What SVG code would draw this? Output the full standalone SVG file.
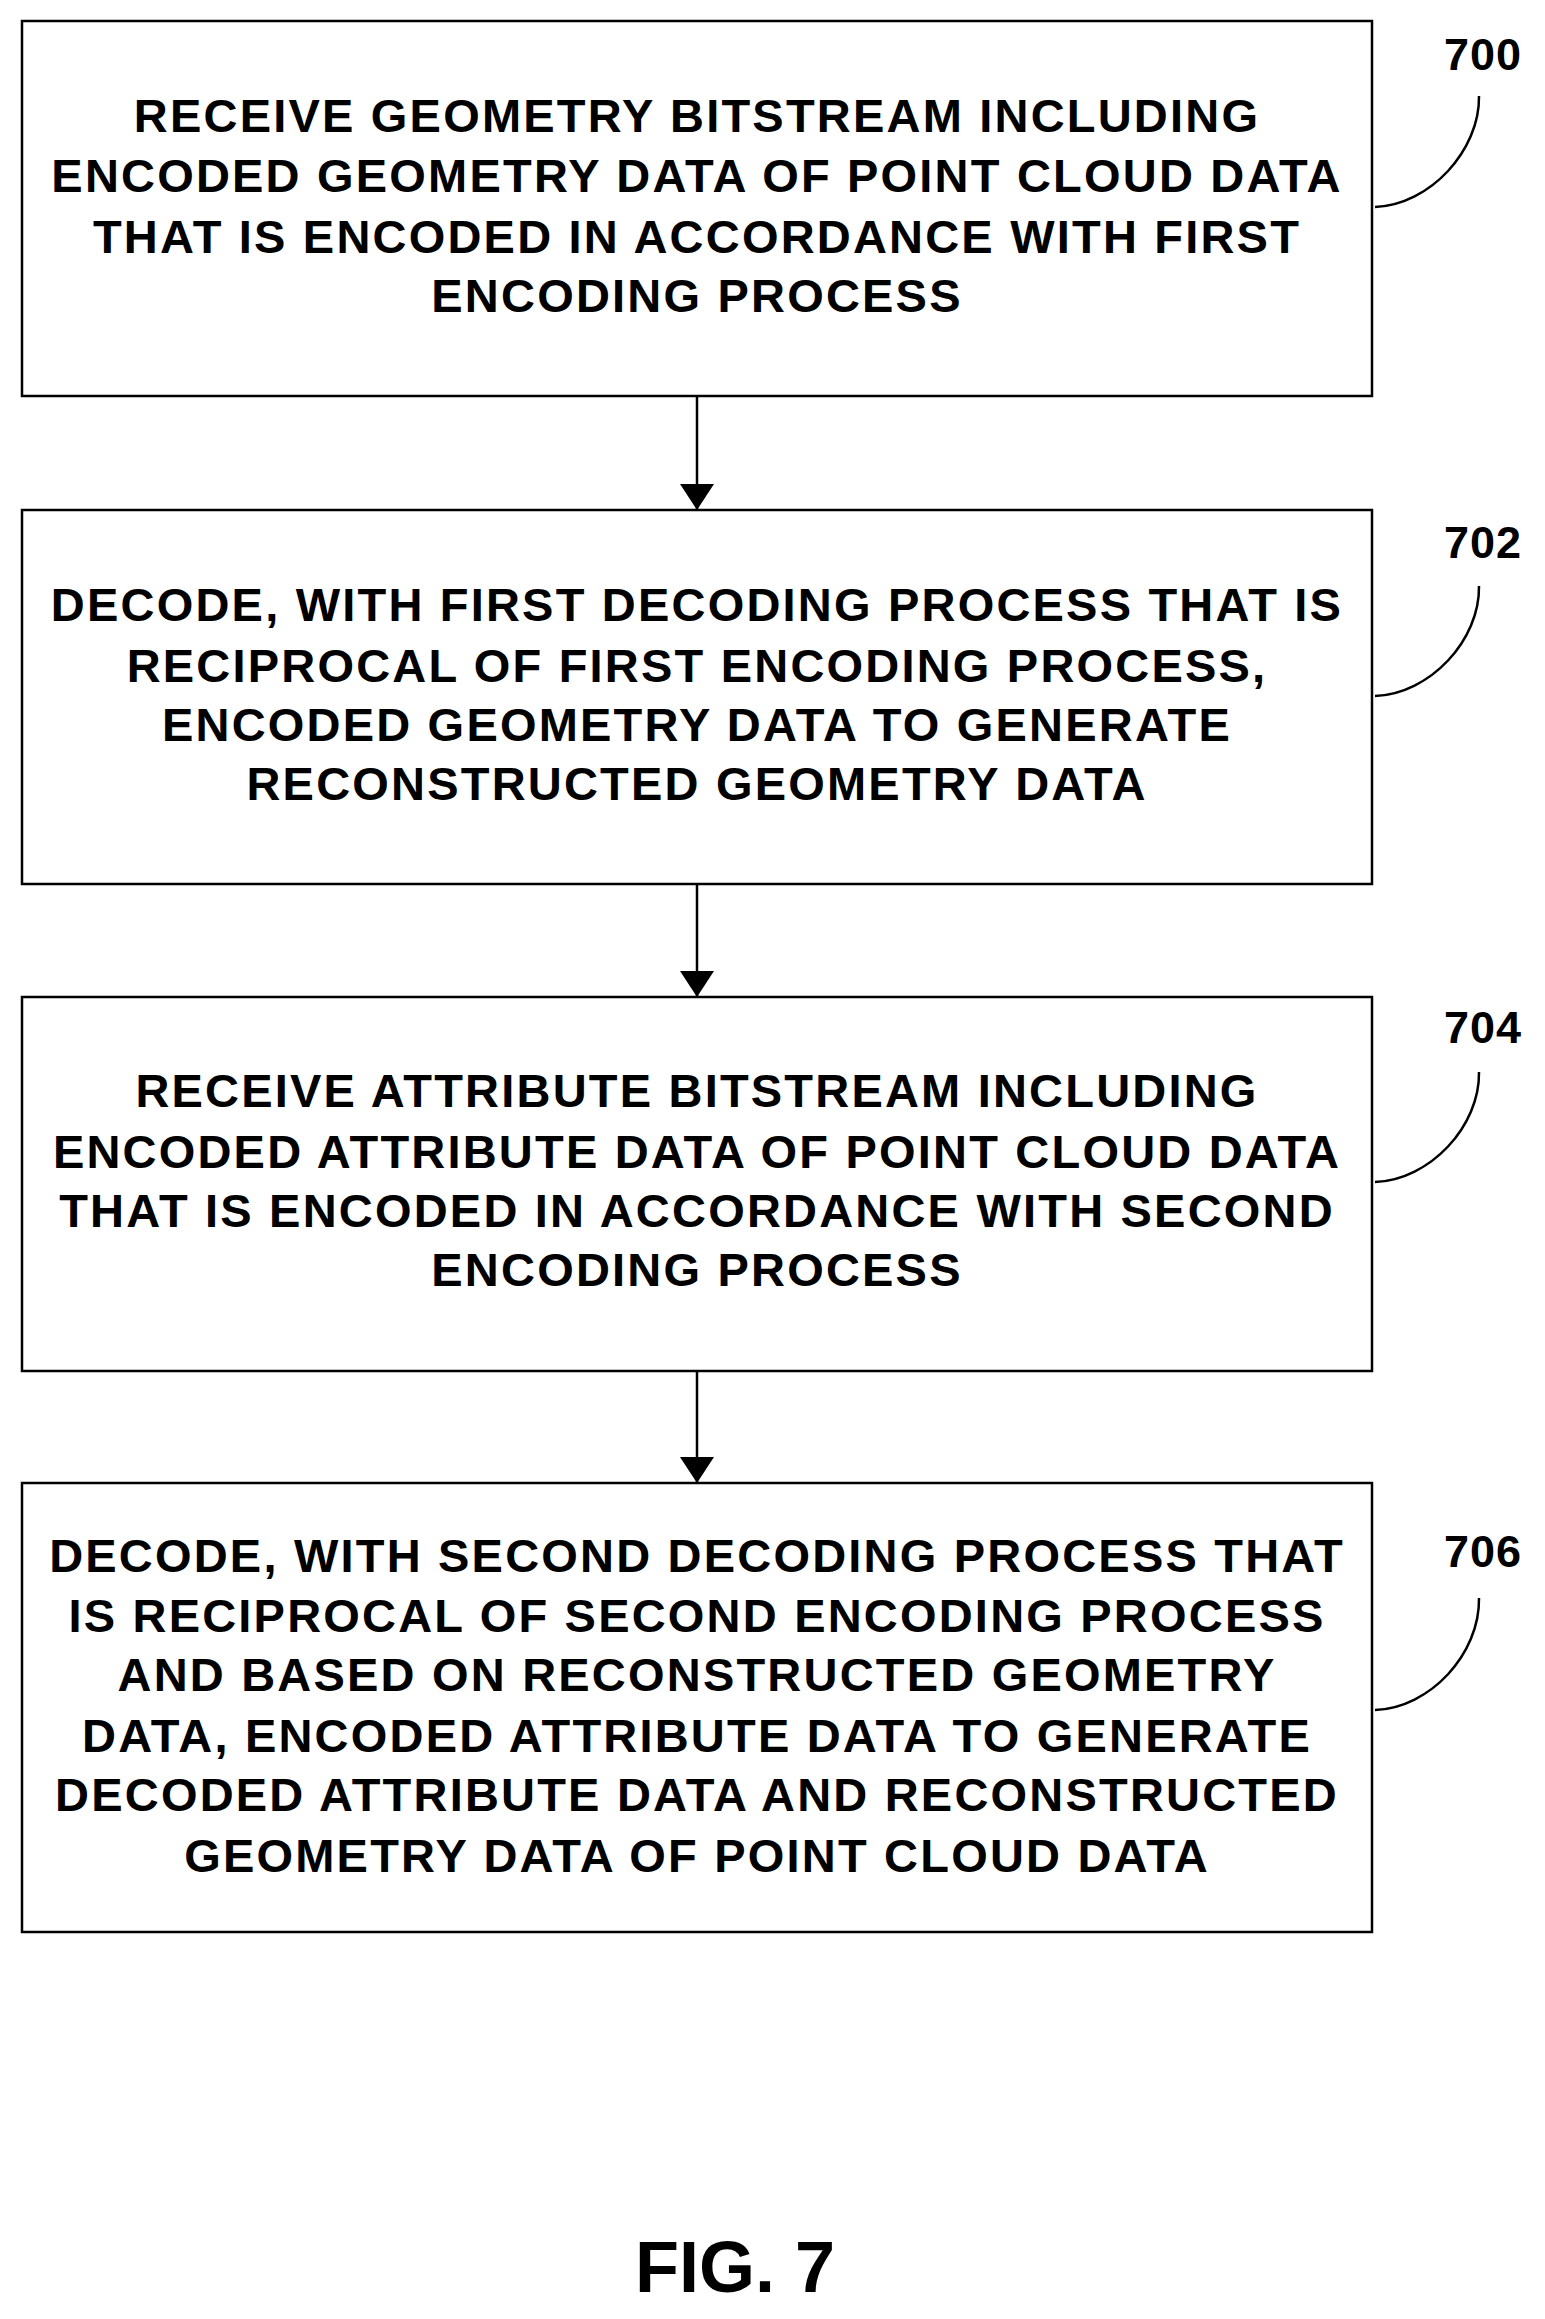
<svg xmlns="http://www.w3.org/2000/svg" width="1545" height="2319" viewBox="0 0 1545 2319">
<style>
.b{fill:#fff;stroke:#000;stroke-width:2.5}
.t{font-family:"Liberation Sans",Arial,sans-serif;font-weight:bold;font-size:47px;letter-spacing:2.2px;text-anchor:middle}
.l{font-family:"Liberation Sans",Arial,sans-serif;font-weight:bold;font-size:45px;letter-spacing:1px}
.c{fill:none;stroke:#000;stroke-width:2.5}
</style>
<defs>
<marker id="ah" viewBox="0 0 10 10" refX="10" refY="5" markerWidth="26" markerHeight="34" orient="auto" markerUnits="userSpaceOnUse" preserveAspectRatio="none"><path d="M0,0L10,5L0,10z"/></marker></defs>
<rect width="1545" height="2319" fill="#fff"/>
<g id="n700"><rect class="b" x="22" y="21" width="1350" height="375"/>
<text class="t" x="697" y="132">RECEIVE GEOMETRY BITSTREAM INCLUDING</text>
<text class="t" x="697" y="192">ENCODED GEOMETRY DATA OF POINT CLOUD DATA</text>
<text class="t" x="697" y="253">THAT IS ENCODED IN ACCORDANCE WITH FIRST</text>
<text class="t" x="697" y="312">ENCODING PROCESS</text>
<text class="l" x="1444" y="70">700</text>
<path class="c" d="M1375,207 C1430,205 1480,150 1479,96"/></g>
<g id="n702"><rect class="b" x="22" y="510" width="1350" height="374"/>
<text class="t" x="697" y="621">DECODE, WITH FIRST DECODING PROCESS THAT IS</text>
<text class="t" x="697" y="682">RECIPROCAL OF FIRST ENCODING PROCESS,</text>
<text class="t" x="697" y="741">ENCODED GEOMETRY DATA TO GENERATE</text>
<text class="t" x="697" y="800">RECONSTRUCTED GEOMETRY DATA</text>
<text class="l" x="1444" y="558">702</text>
<path class="c" d="M1375,696 C1430,694 1480,640 1479,586"/></g>
<g id="n704"><rect class="b" x="22" y="997" width="1350" height="374"/>
<text class="t" x="697" y="1107">RECEIVE ATTRIBUTE BITSTREAM INCLUDING</text>
<text class="t" x="697" y="1168">ENCODED ATTRIBUTE DATA OF POINT CLOUD DATA</text>
<text class="t" x="697" y="1227">THAT IS ENCODED IN ACCORDANCE WITH SECOND</text>
<text class="t" x="697" y="1286">ENCODING PROCESS</text>
<text class="l" x="1444" y="1043">704</text>
<path class="c" d="M1375,1182 C1430,1180 1480,1126 1479,1072"/></g>
<g id="n706"><rect class="b" x="22" y="1483" width="1350" height="449"/>
<text class="t" x="697" y="1572">DECODE, WITH SECOND DECODING PROCESS THAT</text>
<text class="t" x="697" y="1632">IS RECIPROCAL OF SECOND ENCODING PROCESS</text>
<text class="t" x="697" y="1691">AND BASED ON RECONSTRUCTED GEOMETRY</text>
<text class="t" x="697" y="1752">DATA, ENCODED ATTRIBUTE DATA TO GENERATE</text>
<text class="t" x="697" y="1811">DECODED ATTRIBUTE DATA AND RECONSTRUCTED</text>
<text class="t" x="697" y="1872">GEOMETRY DATA OF POINT CLOUD DATA</text>
<text class="l" x="1444" y="1567">706</text>
<path class="c" d="M1375,1710 C1430,1708 1480,1654 1479,1598"/></g>
<g id="connectors">
<line class="c" x1="697" y1="396" x2="697" y2="510" marker-end="url(#ah)"/>
<line class="c" x1="697" y1="884" x2="697" y2="997" marker-end="url(#ah)"/>
<line class="c" x1="697" y1="1371" x2="697" y2="1483" marker-end="url(#ah)"/>
</g>
<text x="735" y="2292" style="font-family:'Liberation Sans',Arial,sans-serif;font-weight:bold;font-size:72px;text-anchor:middle">FIG. 7</text>
</svg>
